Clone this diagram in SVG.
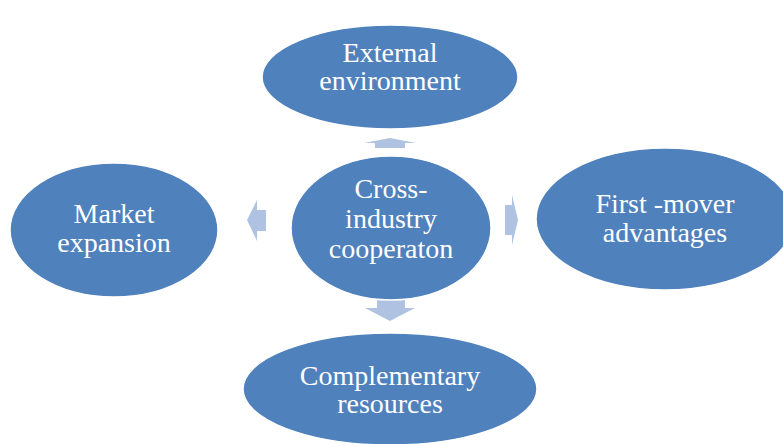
<svg xmlns="http://www.w3.org/2000/svg" width="783" height="444" viewBox="0 0 783 444">
  <defs>
    <style>
      .bubble { fill: #4f81bd; stroke: #ffffff; stroke-width: 1.5; }
      .arrow { fill: #b0c2e1; }
    </style>
  </defs>
  <rect width="783" height="444" fill="#ffffff"/>

  <g id="connectors">
    <!-- up -->
    <polygon class="arrow" points="390,138 416,143 405,143 405,148 375,148 375,143 364,143"/>
    <!-- left -->
    <polygon class="arrow" points="247,220 257,200 257,210 266,210 266,231 257,231 257,241"/>
    <!-- right -->
    <polygon class="arrow" points="518,220 512,195 512,205 505,205 505,235 512,235 512,245"/>
    <!-- down -->
    <polygon class="arrow" points="390,321 415,308 405,308 405,297 377,297 377,308 365,308"/>
  </g>

  <g id="external-environment">
    <ellipse class="bubble" cx="390" cy="77" rx="128" ry="52"/>
    <text x="390" y="62" font-family="Liberation Serif" font-size="28" fill="#ffffff" text-anchor="middle">External</text>
    <text x="390" y="90" font-family="Liberation Serif" font-size="28" fill="#ffffff" text-anchor="middle">environment</text>
  </g>

  <g id="cross-industry">
    <ellipse class="bubble" cx="391" cy="228" rx="100" ry="72"/>
    <text x="391" y="198" font-family="Liberation Serif" font-size="28" fill="#ffffff" text-anchor="middle">Cross-</text>
    <text x="391" y="228" font-family="Liberation Serif" font-size="28" fill="#ffffff" text-anchor="middle">industry</text>
    <text x="391" y="258" font-family="Liberation Serif" font-size="28" fill="#ffffff" text-anchor="middle">cooperaton</text>
  </g>

  <g id="market-expansion">
    <ellipse class="bubble" cx="114" cy="230" rx="104" ry="67"/>
    <text x="114" y="223" font-family="Liberation Serif" font-size="28" fill="#ffffff" text-anchor="middle">Market</text>
    <text x="114" y="252" font-family="Liberation Serif" font-size="28" fill="#ffffff" text-anchor="middle">expansion</text>
  </g>

  <g id="first-mover">
    <ellipse class="bubble" cx="665" cy="219" rx="129" ry="71"/>
    <text x="665" y="213" font-family="Liberation Serif" font-size="28" fill="#ffffff" text-anchor="middle">First -mover</text>
    <text x="665" y="242" font-family="Liberation Serif" font-size="28" fill="#ffffff" text-anchor="middle">advantages</text>
  </g>

  <g id="complementary-resources">
    <ellipse class="bubble" cx="390" cy="389" rx="147" ry="56"/>
    <text x="390" y="385" font-family="Liberation Serif" font-size="28" fill="#ffffff" text-anchor="middle">Complementary</text>
    <text x="390" y="413" font-family="Liberation Serif" font-size="28" fill="#ffffff" text-anchor="middle">resources</text>
  </g>
</svg>
